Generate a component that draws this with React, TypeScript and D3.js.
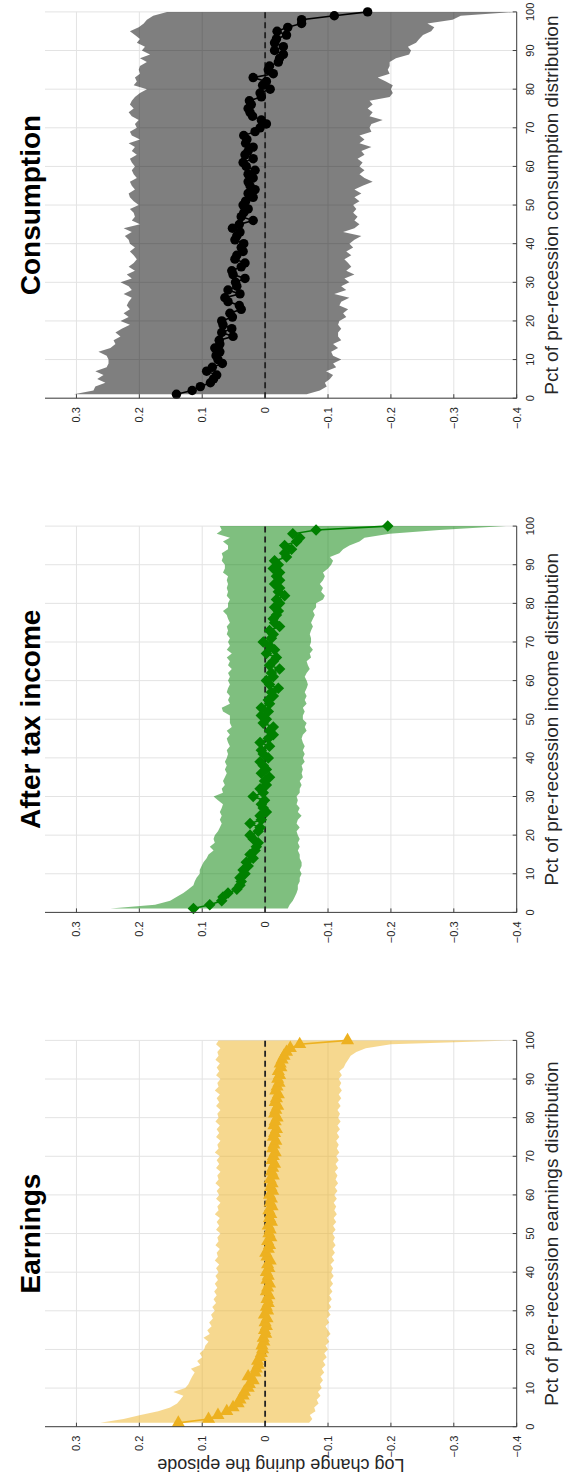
import React from 'react';
import * as d3 from 'd3';

// percentiles 1..100 of the pre-recession distribution
const pct = d3.range(1, 101);

const consMid = [0.141,0.116,0.103,0.087,0.082,0.077,0.093,0.084,0.068,0.075,
  0.078,0.072,0.080,0.072,0.073,0.051,0.069,0.053,0.067,0.069,
  0.052,0.056,0.038,0.041,0.059,0.064,0.040,0.059,0.045,0.047,
  0.032,0.051,0.053,0.038,0.032,0.048,0.045,0.035,0.038,0.034,
  0.048,0.045,0.040,0.052,0.041,0.019,0.038,0.034,0.027,0.035,
  0.031,0.019,0.027,0.016,0.024,0.027,0.019,0.027,0.016,0.030,
  0.035,0.019,0.032,0.027,0.019,0.031,0.029,0.034,0.016,0.008,
  -0.002,0.006,0.020,0.024,0.027,0.022,0.025,0.006,0.008,-0.008,
  0.004,-0.002,0.019,-0.013,-0.005,-0.007,-0.021,-0.023,-0.029,-0.015,
  -0.029,-0.015,-0.018,-0.034,-0.019,-0.036,-0.058,-0.058,-0.110,-0.163];
const consHi = [0.304,0.273,0.270,0.254,0.267,0.257,0.270,0.252,0.249,0.249,
  0.252,0.265,0.246,0.238,0.241,0.230,0.238,0.228,0.215,0.230,
  0.217,0.225,0.215,0.220,0.217,0.212,0.225,0.212,0.217,0.230,
  0.212,0.220,0.207,0.217,0.209,0.204,0.209,0.215,0.207,0.215,
  0.217,0.223,0.212,0.225,0.199,0.212,0.207,0.209,0.215,0.201,
  0.209,0.215,0.217,0.207,0.212,0.215,0.204,0.209,0.212,0.207,
  0.212,0.215,0.204,0.212,0.207,0.217,0.199,0.212,0.215,0.204,
  0.207,0.201,0.212,0.217,0.209,0.215,0.212,0.207,0.199,0.188,
  0.209,0.204,0.207,0.199,0.201,0.199,0.188,0.199,0.183,0.196,
  0.191,0.204,0.199,0.207,0.215,0.201,0.193,0.188,0.178,0.156];
const consLo = [-0.066,-0.087,-0.098,-0.095,-0.103,-0.108,-0.097,-0.113,-0.108,-0.121,
  -0.108,-0.105,-0.116,-0.108,-0.121,-0.116,-0.116,-0.121,-0.116,-0.118,
  -0.129,-0.124,-0.132,-0.118,-0.121,-0.134,-0.110,-0.129,-0.121,-0.134,
  -0.126,-0.142,-0.129,-0.137,-0.132,-0.126,-0.137,-0.129,-0.140,-0.134,
  -0.142,-0.153,-0.124,-0.142,-0.150,-0.142,-0.147,-0.140,-0.145,-0.140,
  -0.150,-0.142,-0.153,-0.142,-0.155,-0.171,-0.158,-0.150,-0.158,-0.150,
  -0.155,-0.147,-0.158,-0.153,-0.169,-0.150,-0.158,-0.150,-0.169,-0.166,
  -0.169,-0.187,-0.166,-0.171,-0.163,-0.171,-0.166,-0.198,-0.203,-0.200,
  -0.203,-0.192,-0.179,-0.198,-0.195,-0.198,-0.198,-0.208,-0.229,-0.232,
  -0.227,-0.240,-0.245,-0.251,-0.264,-0.269,-0.258,-0.298,-0.311,-0.399];

const incMid = [0.114,0.088,0.069,0.067,0.059,0.045,0.040,0.038,0.040,0.032,
  0.035,0.027,0.030,0.019,0.024,0.016,0.014,0.011,0.019,0.024,
  0.011,0.008,0.024,0.006,0.008,-0.002,0.003,0.006,0.001,0.019,
  0.003,0.008,-0.002,0.001,-0.007,0.006,-0.002,0.003,0.008,-0.005,
  0.003,0.006,-0.007,0.008,-0.005,-0.013,-0.007,-0.013,0.003,-0.002,
  0.006,-0.005,0.006,-0.007,-0.005,-0.013,-0.010,-0.021,-0.007,-0.002,
  -0.013,-0.010,-0.023,-0.007,-0.013,-0.018,-0.002,-0.015,-0.007,0.003,
  -0.010,-0.013,-0.007,-0.023,-0.015,-0.013,-0.018,-0.021,-0.015,-0.023,
  -0.018,-0.031,-0.021,-0.023,-0.015,-0.023,-0.018,-0.023,-0.013,-0.021,
  -0.015,-0.034,-0.031,-0.042,-0.031,-0.050,-0.055,-0.044,-0.081,-0.195];
const incHi = [0.246,0.175,0.151,0.141,0.130,0.122,0.114,0.112,0.109,0.104,
  0.104,0.101,0.098,0.093,0.090,0.082,0.088,0.080,0.082,0.080,
  0.075,0.072,0.069,0.072,0.069,0.072,0.069,0.067,0.075,0.082,
  0.067,0.069,0.064,0.067,0.064,0.061,0.064,0.061,0.064,0.061,
  0.059,0.061,0.056,0.059,0.061,0.056,0.061,0.053,0.056,0.056,
  0.056,0.067,0.069,0.056,0.059,0.056,0.061,0.059,0.056,0.059,
  0.056,0.059,0.053,0.059,0.056,0.061,0.053,0.061,0.056,0.059,
  0.056,0.061,0.059,0.061,0.056,0.059,0.061,0.067,0.059,0.059,
  0.056,0.061,0.059,0.061,0.059,0.061,0.059,0.067,0.064,0.064,
  0.069,0.067,0.069,0.059,0.059,0.067,0.056,0.077,0.069,0.072];
const incLo = [-0.036,-0.039,-0.044,-0.047,-0.050,-0.052,-0.052,-0.055,-0.055,-0.058,
  -0.055,-0.058,-0.058,-0.055,-0.055,-0.052,-0.055,-0.052,-0.055,-0.052,
  -0.050,-0.055,-0.050,-0.052,-0.058,-0.052,-0.055,-0.050,-0.052,-0.050,
  -0.055,-0.055,-0.058,-0.055,-0.060,-0.058,-0.060,-0.058,-0.063,-0.060,
  -0.063,-0.060,-0.063,-0.060,-0.058,-0.060,-0.066,-0.063,-0.066,-0.060,
  -0.060,-0.063,-0.060,-0.066,-0.063,-0.066,-0.063,-0.066,-0.068,-0.066,
  -0.063,-0.066,-0.071,-0.068,-0.066,-0.073,-0.071,-0.076,-0.071,-0.073,
  -0.073,-0.071,-0.073,-0.076,-0.073,-0.076,-0.079,-0.076,-0.081,-0.081,
  -0.092,-0.095,-0.089,-0.092,-0.087,-0.092,-0.095,-0.092,-0.100,-0.105,
  -0.108,-0.103,-0.118,-0.124,-0.134,-0.150,-0.158,-0.198,-0.277,-0.383];

const earnMid = [0.138,0.090,0.075,0.061,0.051,0.043,0.040,0.035,0.033,0.027,
  0.025,0.019,0.027,0.016,0.014,0.011,0.012,0.008,0.006,0.004,
  0.005,0.002,0.003,-0.001,0.001,-0.002,0.000,-0.003,0.001,-0.004,
  -0.002,-0.005,-0.003,-0.006,-0.002,-0.004,-0.007,-0.003,-0.005,-0.002,
  -0.006,-0.004,-0.008,-0.003,-0.001,-0.005,-0.007,-0.004,-0.009,-0.006,
  -0.008,-0.005,-0.010,-0.007,-0.009,-0.006,-0.011,-0.008,-0.010,-0.007,
  -0.012,-0.009,-0.011,-0.008,-0.013,-0.010,-0.012,-0.015,-0.011,-0.013,
  -0.016,-0.012,-0.014,-0.017,-0.013,-0.015,-0.018,-0.014,-0.016,-0.019,
  -0.015,-0.017,-0.020,-0.016,-0.018,-0.021,-0.017,-0.019,-0.022,-0.020,
  -0.023,-0.021,-0.025,-0.024,-0.027,-0.030,-0.034,-0.040,-0.055,-0.131];
const earnHi = [0.262,0.225,0.198,0.170,0.151,0.140,0.135,0.130,0.146,0.127,
  0.122,0.119,0.116,0.112,0.118,0.103,0.108,0.100,0.104,0.097,
  0.095,0.090,0.098,0.088,0.092,0.085,0.089,0.083,0.086,0.080,
  0.084,0.078,0.082,0.077,0.081,0.076,0.080,0.075,0.079,0.074,
  0.078,0.073,0.080,0.075,0.077,0.072,0.079,0.074,0.076,0.071,
  0.078,0.073,0.077,0.072,0.080,0.074,0.076,0.071,0.078,0.073,
  0.077,0.072,0.079,0.074,0.076,0.071,0.078,0.073,0.077,0.072,
  0.080,0.074,0.076,0.071,0.078,0.073,0.077,0.072,0.079,0.074,
  0.076,0.071,0.078,0.073,0.077,0.072,0.080,0.074,0.076,0.071,
  0.078,0.073,0.077,0.072,0.079,0.074,0.076,0.071,0.078,0.074];
const earnLo = [-0.070,-0.075,-0.071,-0.080,-0.078,-0.085,-0.082,-0.088,-0.084,-0.090,
  -0.087,-0.092,-0.088,-0.094,-0.090,-0.096,-0.092,-0.098,-0.094,-0.100,
  -0.096,-0.102,-0.098,-0.104,-0.100,-0.096,-0.102,-0.098,-0.104,-0.100,
  -0.105,-0.101,-0.106,-0.102,-0.107,-0.103,-0.108,-0.104,-0.109,-0.105,
  -0.108,-0.104,-0.110,-0.106,-0.111,-0.107,-0.112,-0.108,-0.111,-0.107,
  -0.112,-0.108,-0.113,-0.109,-0.114,-0.110,-0.113,-0.109,-0.114,-0.110,
  -0.115,-0.111,-0.116,-0.112,-0.115,-0.111,-0.116,-0.112,-0.117,-0.113,
  -0.118,-0.114,-0.117,-0.113,-0.118,-0.114,-0.119,-0.115,-0.120,-0.116,
  -0.119,-0.115,-0.120,-0.116,-0.121,-0.117,-0.122,-0.118,-0.121,-0.117,
  -0.122,-0.118,-0.125,-0.128,-0.132,-0.136,-0.145,-0.160,-0.200,-0.400];

const valueTicks = [-0.4, -0.3, -0.2, -0.1, 0, 0.1, 0.2, 0.3];
const pctTicks = [0, 10, 20, 30, 40, 50, 60, 70, 80, 90, 100];
const titles = ['Earnings', 'After tax income', 'Consumption'];
const xLabels = [
  'Pct of pre-recession earnings distribution',
  'Pct of pre-recession income distribution',
  'Pct of pre-recession consumption distribution',
];
const yLabel = 'Log change during the episode';

// figure is drawn landscape and turned a quarter turn
const W = 1481;
const PW = 386.3;
const lefts = [54.3, 568.6, 1082.8];
const FONT = '"Liberation Sans", Arial, Helvetica, sans-serif';

const y = d3.scaleLinear().domain([-0.4, 0.35]).range([516.7, 45]);

function Panel({ i, mid, hi, lo, fill, color, symbol, size, spin }) {
  const left = lefts[i];
  const x = d3.scaleLinear().domain([0, 100]).range([left, left + PW]);
  const area = d3.area<number>()
    .x((d, k) => x(pct[k]))
    .y0((d, k) => y(lo[k]))
    .y1((d, k) => y(hi[k]));
  const line = d3.line<number>().x((d, k) => x(pct[k])).y(d => y(d));
  const sym = d3.symbol(symbol, size)();
  const [y0, y1] = y.range();

  return (
    <g>
      {pctTicks.map(t => (
        <line key={'gx' + t} x1={x(t)} x2={x(t)} y1={y1} y2={y0} stroke="#e3e3e3" strokeWidth={1} />
      ))}
      {valueTicks.map(t => (
        <line key={'gy' + t} x1={x(0)} x2={x(100)} y1={y(t)} y2={y(t)} stroke="#e3e3e3" strokeWidth={1} />
      ))}
      <path d={area(mid)} fill={fill} fillOpacity={0.5} />
      <line x1={x(0)} x2={x(100)} y1={y(0)} y2={y(0)} stroke="#222" strokeWidth={1.8} strokeDasharray="6,4" />
      <path d={line(mid)} fill="none" stroke={color} strokeWidth={1.6} />
      {mid.map((d, k) => (
        <path key={k} d={sym} transform={`translate(${x(pct[k])},${y(d)}) rotate(${spin})`} fill={color} />
      ))}
      {/* axes */}
      <line x1={x(0)} x2={x(0)} y1={y1} y2={y0} stroke="#404040" strokeWidth={1} />
      <line x1={x(0)} x2={x(100)} y1={y0} y2={y0} stroke="#404040" strokeWidth={1} />
      {valueTicks.map(t => (
        <g key={'ty' + t}>
          <line x1={x(0)} x2={x(0) + 4} y1={y(t)} y2={y(t)} stroke="#404040" />
          <text x={x(0) - 9} y={y(t)} textAnchor="end" dominantBaseline="central"
            fontFamily={FONT} fontSize={11} fill="#262626">{t === 0 ? '0' : d3.format('.1f')(t)}</text>
        </g>
      ))}
      {pctTicks.map(t => (
        <g key={'tx' + t}>
          <line x1={x(t)} x2={x(t)} y1={y0} y2={y0 - 4} stroke="#404040" />
          <text x={x(t)} y={y0 + 13} textAnchor="middle" dominantBaseline="central"
            fontFamily={FONT} fontSize={11} fill="#262626">{t}</text>
        </g>
      ))}
      <text x={left + PW / 2} y={551} textAnchor="middle" dominantBaseline="central"
        fontFamily={FONT} fontSize={19} fill="#262626">{xLabels[i]}</text>
      <text x={left + PW / 2} y={30} textAnchor="middle" dominantBaseline="central"
        fontFamily={FONT} fontSize={28} fontWeight="bold" fill="#000">{titles[i]}</text>
    </g>
  );
}

export default function App() {
  return (
    <svg width={563} height={1481} style={{ position: 'absolute', left: 0, top: 0, background: '#fff' }}>
      <rect width={563} height={1481} fill="#fff" />
      <g transform={`translate(0,${W}) rotate(-90)`}>
        <Panel i={0} mid={earnMid} hi={earnHi} lo={earnLo} fill="#EDB120" color="#EDB120"
          symbol={d3.symbolTriangle} size={75} spin={90} />
        <Panel i={1} mid={incMid} hi={incHi} lo={incLo} fill="#008000" color="#008000"
          symbol={d3.symbolDiamond2} size={85} spin={0} />
        <Panel i={2} mid={consMid} hi={consHi} lo={consLo} fill="#000000" color="#000000"
          symbol={d3.symbolCircle} size={70} spin={0} />
        <text transform={`translate(16,${y(-0.025)}) rotate(-90)`} textAnchor="middle" dominantBaseline="central"
          fontFamily={FONT} fontSize={18} fill="#262626">{yLabel}</text>
      </g>
    </svg>
  );
}
